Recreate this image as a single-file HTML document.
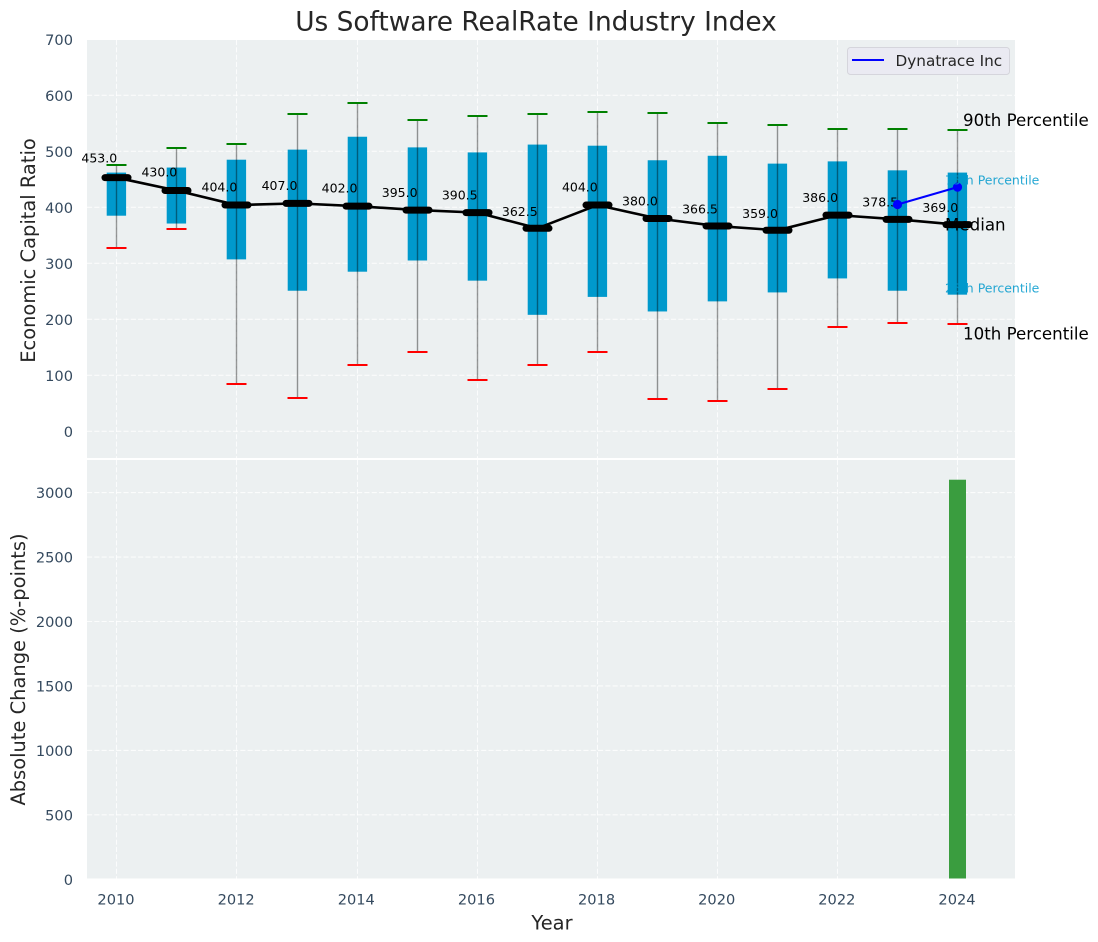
<!DOCTYPE html>
<html>
<head>
<meta charset="utf-8">
<title>Us Software RealRate Industry Index</title>
<style>
html,body{margin:0;padding:0;background:#fff;}
svg{display:block;font-family:"DejaVu Sans","Liberation Sans",sans-serif;}
</style>
</head>
<body>
<svg id="chart" xmlns="http://www.w3.org/2000/svg" width="1098" height="942" viewBox="0 0 1098 942"></svg>
<script>
const years = [2010,2011,2012,2013,2014,2015,2016,2017,2018,2019,2020,2021,2022,2023,2024];
const medians = [453,430,404,407,402,395,390.5,362.5,404,380,366.5,359,386,378.5,369];
const q3Values = [462,471,485,503,526,507,498,512,510,484,492,478,482,466,462];
const q1Values = [385,371,307,251,285,305,269,208,240,214,232,248,273,251,244];
const p90Values = [475.5,506,513,566.5,586,556,563,566.5,570,568.5,550.5,547,540,540,538];
const p10Values = [328,362,85,60,119,142,92,119,142,58,55,76,187,194,192];
const companyYears = [2023,2024];
const companyValues = [405,436];
const changeYears = [2024];
const changeValues = [3100];
const xTicks = [2010,2012,2014,2016,2018,2020,2022,2024];
const topTicks = [0,100,200,300,400,500,600,700];
const bottomTicks = [0,500,1000,1500,2000,2500,3000];

const svg = document.getElementById('chart');
const NS = 'http://www.w3.org/2000/svg';
const L = 87, R = 1015, T1 = 40, B1 = 458, T2 = 460, B2 = 878.5;
const TICK = '#34495e', BG = '#ecf0f1';

function xr(v){ return 116 + (v - 2010) * 60.07; }
function xs(v){ return Math.round(116.35 + (v - 2010) * 60.07) + 0.5; }
function y1(v){ return 431.3 - v * 0.56; }
function y2(v){ return 879.3 - v * 0.1289; }
function snap(y){ return Math.round(y); }

function mk(tag, attrs, text){
  const n = document.createElementNS(NS, tag);
  for (const k in attrs) n.setAttribute(k, attrs[k]);
  if (text !== undefined) n.textContent = text;
  svg.appendChild(n);
  return n;
}
let el;

el = mk('rect',{x:L,y:T1,width:R-L,height:B1-T1,fill:BG});


el = mk('rect',{x:L,y:T2,width:R-L,height:B2-T2,fill:BG});



const gridStyle = {stroke:'#fff','stroke-width':1.1,'stroke-dasharray':'5.1 2.2','stroke-opacity':0.8};
topTicks.forEach(function(t){
  if (y1(t) >= T1) {
    el = mk('line',Object.assign({x1:L,x2:R,y1:y1(t),y2:y1(t)},gridStyle));
    
    
  }
  el = mk('text',{x:73,y:y1(t)+5.5,'text-anchor':'end','font-size':14.6,fill:TICK},String(t));
  
  
});
bottomTicks.forEach(function(t){
  if (t > 0) {
    el = mk('line',Object.assign({x1:L,x2:R,y1:y2(t),y2:y2(t)},gridStyle));
    
    
  }
  el = mk('text',{x:73,y:y2(t)+5.5,'text-anchor':'end','font-size':14.6,fill:TICK},String(t));
  
  
});
xTicks.forEach(function(t){
  el = mk('line',Object.assign({x1:xs(t),x2:xs(t),y1:T1,y2:B1},gridStyle));
  
  
  el = mk('line',Object.assign({x1:xs(t),x2:xs(t),y1:T2,y2:B2},gridStyle));
  
  
  el = mk('text',{x:xr(t),y:904.5,'text-anchor':'middle','font-size':14.6,fill:TICK},String(t));
  
  
});

years.forEach(function(yr,i){
  const cx = xs(yr);
  el = mk('rect',{x:cx-9.8,y:y1(q3Values[i]),width:19.4,height:y1(q1Values[i])-y1(q3Values[i]),fill:'#0099cc'});
  
  
  el = mk('line',{x1:cx,x2:cx,y1:y1(p10Values[i]),y2:y1(p90Values[i]),stroke:'#000','stroke-opacity':0.4,'stroke-width':1.4});
  
  
  el = mk('line',{x1:cx-10,x2:cx+10,y1:snap(y1(p90Values[i])),y2:snap(y1(p90Values[i])),stroke:'#008000','stroke-width':2});
  
  
  el = mk('line',{x1:cx-10,x2:cx+10,y1:snap(y1(p10Values[i])),y2:snap(y1(p10Values[i])),stroke:'#ff0000','stroke-width':2});
  
  
});

el = mk('polyline',{points:years.map(function(yr,i){return xs(yr)+','+y1(medians[i]);}).join(' '),fill:'none',stroke:'#000','stroke-width':2.6});



years.forEach(function(yr,i){
  const cx = xs(yr), cy = y1(medians[i]);
  el = mk('line',{x1:cx-11.5,x2:cx+11.5,y1:cy,y2:cy,stroke:'#000','stroke-width':7,'stroke-linecap':'round'});
  
  
  el = mk('text',{x:xr(yr)-16.7,y:y1(medians[i]*1.05)-2.2,'text-anchor':'middle','font-size':12.5,fill:'#000'},medians[i].toFixed(1));
  
  
});

el = mk('polyline',{points:companyYears.map(function(yr,i){return xs(yr)+','+y1(companyValues[i]);}).join(' '),fill:'none',stroke:'#0000ff','stroke-width':2});


companyYears.forEach(function(yr,i){
  el = mk('circle',{cx:xs(yr),cy:y1(companyValues[i]),r:4.6,fill:'#0000ff'});
  
  
});

changeYears.forEach(function(yr,i){
  el = mk('rect',{x:xs(yr)-8.5,y:y2(changeValues[i]),width:17,height:B2-y2(changeValues[i]),fill:'#3a9d3f'});
  
  
});

el = mk('text',{x:963,y:126,'font-size':16.67,fill:'#000'},'90th Percentile');


el = mk('text',{x:945,y:184.3,'font-size':12.5,fill:'#0099cc','fill-opacity':0.85},'75th Percentile');


el = mk('text',{x:945,y:230.5,'font-size':16.67,fill:'#000'},'Median');


el = mk('text',{x:945,y:292.3,'font-size':12.5,fill:'#0099cc','fill-opacity':0.85},'25th Percentile');


el = mk('text',{x:963,y:339.3,'font-size':16.67,fill:'#000'},'10th Percentile');



el = mk('rect',{x:847.5,y:47.5,width:162,height:27,rx:3,fill:'#eaeaf2',stroke:'#d5d5dc','stroke-width':1});


el = mk('line',{x1:852,x2:884,y1:60,y2:60,stroke:'#0000ff','stroke-width':2});


el = mk('text',{x:895.5,y:66,'font-size':15.28,fill:'#262626'},'Dynatrace Inc');



el = mk('text',{x:536,y:30.5,'text-anchor':'middle','font-size':26.4,fill:'#262626'},'Us Software RealRate Industry Index');


el = mk('text',{x:552,y:929.3,'text-anchor':'middle','font-size':19.44,fill:'#262626'},'Year');


el = mk('text',{x:0,y:0,transform:'translate(35 250.5) rotate(-90)','text-anchor':'middle','font-size':19.44,fill:'#262626'},'Economic Capital Ratio');


el = mk('text',{x:0,y:0,transform:'translate(25 669.5) rotate(-90)','text-anchor':'middle','font-size':19.44,fill:'#262626'},'Absolute Change (%-points)');


</script>
</body>
</html>
